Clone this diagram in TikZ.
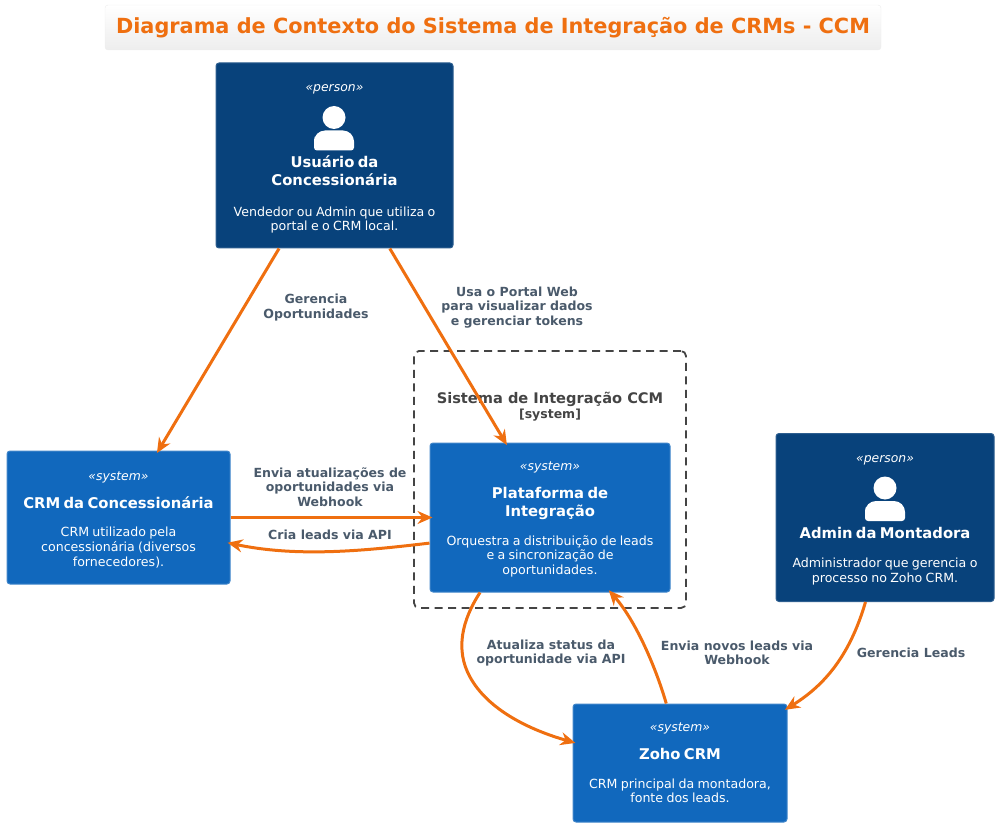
\documentclass[tikz,border=0pt]{standalone}
\usepackage{fontspec}
\setmainfont{DejaVu Sans}
\usetikzlibrary{arrows.meta}
\definecolor{personblue}{HTML}{08427B}
\definecolor{systemblue}{HTML}{1168BD}
\definecolor{relorange}{HTML}{EF6F10}
\definecolor{relgray}{HTML}{4A5A6B}
\definecolor{linegray}{HTML}{444444}
\newcommand{\stereofont}{\itshape\fontsize{12.4}{15}\selectfont}
\newcommand{\namefont}{\bfseries\fontsize{14.8}{18}\selectfont}
\newcommand{\descfont}{\fontsize{12.6}{14.6}\selectfont}
\newcommand{\boxtext}[5]{{\stereofont #1\par}\vskip #2 {\namefont #3\par}\vskip #4 {\descfont #5\par}}
\newcommand{\personicon}[1]{\fill[white,shift={(#1)}] (0,0) circle (11.5)
   (-20,33) [rounded corners=3] -- (-20,22) [rounded corners=11] -- (-20,13) -- (20,13) [rounded corners=3] -- (20,33) -- cycle;}
\tikzstyle{personbox} = [rectangle, draw=personblue!85!white, fill=personblue, text=white, rounded corners=3, align=center, line width=1pt, inner sep=0pt]
\tikzstyle{systembox} = [rectangle, draw=systemblue!80!white, fill=systemblue, text=white, rounded corners=3, align=center, line width=1pt, inner sep=0pt]
\tikzstyle{rel} = [-{Stealth[length=15pt,width=13pt]}, draw=relorange, line width=3pt, shorten >=-3pt]
\tikzstyle{rellabel} = [text=relgray, align=center, font=\bfseries\fontsize{12.55}{14.6}\selectfont, inner sep=0pt]
\begin{document}
\begin{tikzpicture}[x=1pt,y=-1pt]
   \useasboundingbox (0,0) rectangle (998,826);
   \node[rectangle, draw=black!7, rounded corners=3, top color=white, bottom color=black!7, minimum width=776pt, minimum height=45pt, text=relorange, font=\bfseries\fontsize{20.83}{24}\selectfont] (title) at (493,27.5) {\raisebox{-1.5pt}{Diagrama de Contexto do Sistema de Integração de CRMs - CCM}};
   % boundary
   \node[rectangle, draw=linegray, dashed, dash pattern=on 8pt off 5.5pt, rounded corners=5, line width=1.8pt, minimum width=272pt, minimum height=257pt] (boundary) at (550,479.5) {};
   \node[text=linegray, align=center, inner sep=0pt] (boundarylabel) at (550,407) {{\bfseries\fontsize{14.6}{15}\selectfont Sistema de Integração CCM}\\[1.5pt]{\bfseries\fontsize{12.5}{13}\selectfont [system]}};
   % boxes
   \node[personbox, minimum width=237pt, minimum height=185pt, text width=237pt] (usuario) at (334.5,155.5) {\vskip -1pt\boxtext{«person»}{58pt}{Usuário da\\Concessionária}{16pt}{Vendedor ou Admin que utiliza o\\portal e o CRM local.}};
   \node[systembox, minimum width=223pt, minimum height=133pt, text width=223pt] (crm) [below of=usuario, node distance=362pt, xshift=-216pt] {\vskip -2pt\boxtext{«system»}{10pt}{CRM da Concessionária}{14pt}{CRM utilizado pela\\concessionária (diversos\\fornecedores).}};
   \node[systembox, minimum width=240pt, minimum height=149pt, text width=240pt] (plataforma) [right of=crm, node distance=431.5pt] {\vskip -2pt\boxtext{«system»}{10pt}{Plataforma de\\Integração}{14pt}{Orquestra a distribuição de leads\\e a sincronização de\\oportunidades.}};
   \node[personbox, minimum width=218pt, minimum height=168pt, text width=218pt] (admin) [right of=plataforma, node distance=335pt] {\vskip -3pt\boxtext{«person»}{58pt}{Admin da Montadora}{15pt}{Administrador que gerencia o\\processo no Zoho CRM.}};
   \node[systembox, minimum width=214pt, minimum height=118pt, text width=214pt] (zoho) [below of=plataforma, node distance=245.5pt, xshift=130pt] {\boxtext{«system»}{10pt}{Zoho CRM}{14pt}{CRM principal da montadora,\\fonte dos leads.}};
   \personicon{334,117.5}
   \personicon{885,488}
   % relations
   \draw[rel] (usuario) -- (crm);
   \draw[rel] (usuario) -- (plataforma);
   \draw[rel] (crm) -- (plataforma);
   \draw[rel] (plataforma.192) .. controls (370,550) and (300,558) .. (crm.347);
   \draw[rel] (plataforma.227) .. controls (462,620) and (455,650) .. (470,677) .. controls (488,710) and (530,730) .. (zoho.169);
   \draw[rel] (zoho.103) .. controls (655,665) and (635,620) .. (plataforma.309);
   \draw[rel] (admin.257) .. controls (850,655) and (825,685) .. (zoho.27);
   % labels
   \node[rellabel] (l1) at (316,307.5) {Gerencia\\Oportunidades};
   \node[rellabel] (l2) at (517,307.5) {Usa o Portal Web\\para visualizar dados\\e gerenciar tokens};
   \node[rellabel] (l3) at (330,487) {Envia atualizações de\\oportunidades via\\Webhook};
   \node[rellabel] (l4) at (330,534.5) {Cria leads via API};
   \node[rellabel] (l5) at (551,653) {Atualiza status da\\oportunidade via API};
   \node[rellabel] (l6) at (737,653) {Envia novos leads via\\Webhook};
   \node[rellabel] (l7) at (911,653) {Gerencia Leads};
\end{tikzpicture}
\end{document}
